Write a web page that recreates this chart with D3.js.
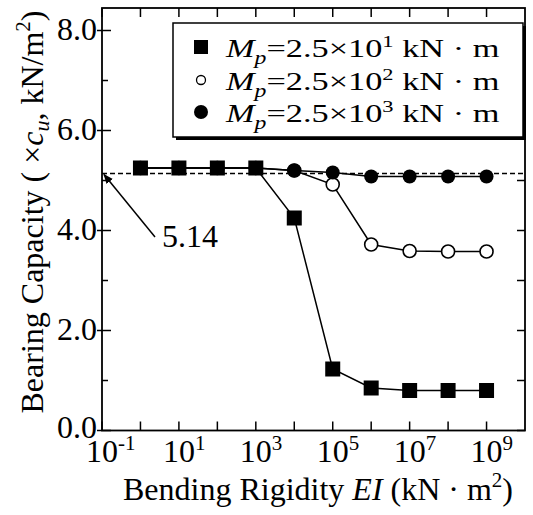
<!DOCTYPE html>
<html>
<head>
<meta charset="utf-8">
<script src="https://cdn.jsdelivr.net/npm/d3@7"></script>
<style>
  html, body { margin: 0; padding: 0; background: #fff; }
  svg { display: block; }
</style>
</head>
<body>
<script>
// ---- data ----
const exponents = [0, 1, 2, 3, 4, 5, 6, 7, 8, 9];           // EI = 10^exp
const seriesSquare = [5.25, 5.25, 5.25, 5.25, 4.25, 1.23, 0.85, 0.80, 0.80, 0.80]; // Mp=2.5e1
const seriesOpen   = [5.25, 5.25, 5.25, 5.25, 5.20, 4.92, 3.72, 3.59, 3.58, 3.58]; // Mp=2.5e2
const seriesFilled = [5.25, 5.25, 5.25, 5.25, 5.20, 5.16, 5.08, 5.08, 5.08, 5.08]; // Mp=2.5e3
const legendExps = ["1", "2", "3"];
const yTickValues = [0, 2, 4, 6, 8];
const yMinorValues = [1, 3, 5, 7];
const xTickExps = [-1, 0, 1, 2, 3, 4, 5, 6, 7, 8, 9];
const xLabelExps = ["-1", "1", "3", "5", "7", "9"];
const refValue = 5.14;

// ---- layout ----
const W = 533, H = 515;
const L = 102, R = 525, T = 8, B = 430.5;
const SERIF = "Liberation Serif";

const svg = d3.select("body").append("svg").attr("width", W).attr("height", H)
  .attr("font-family", SERIF);
const txt = (sel) => sel.append("text").attr("font-family", SERIF).attr("fill", "#000");

const x = d3.scaleLog().domain([1e-1, 1e10]).range([L, R]);
const y = d3.scaleLinear().domain([0, 8.45]).range([B, T]);

// frame
svg.append("rect").attr("x", L).attr("y", T).attr("width", R - L).attr("height", B - T)
  .attr("fill", "none").attr("stroke", "#000").attr("stroke-width", 1.8);

// x ticks (bottom & top, inward)
xTickExps.forEach(e => {
  const xx = x(Math.pow(10, e));
  svg.append("line").attr("x1", xx).attr("x2", xx).attr("y1", B).attr("y2", B - 9)
    .attr("stroke", "#000").attr("stroke-width", 1.5);
  svg.append("line").attr("x1", xx).attr("x2", xx).attr("y1", T).attr("y2", T + 9)
    .attr("stroke", "#000").attr("stroke-width", 1.5);
});
// y ticks
yTickValues.forEach(v => {
  const yy = y(v);
  svg.append("line").attr("x1", L - 5).attr("x2", L + 9).attr("y1", yy).attr("y2", yy)
    .attr("stroke", "#000").attr("stroke-width", 1.5);
  svg.append("line").attr("x1", R).attr("x2", R - 8).attr("y1", yy).attr("y2", yy)
    .attr("stroke", "#000").attr("stroke-width", 1.5);
  txt(svg).attr("x", L - 5).attr("y", yy + (v === 0 ? 7 : 9)).attr("text-anchor", "end")
    .attr("font-size", 32).text(v.toFixed(1));
});
yMinorValues.forEach(v => {
  const yy = y(v);
  svg.append("line").attr("x1", L).attr("x2", L + 6).attr("y1", yy).attr("y2", yy)
    .attr("stroke", "#000").attr("stroke-width", 1.5);
  svg.append("line").attr("x1", R).attr("x2", R - 8).attr("y1", yy).attr("y2", yy)
    .attr("stroke", "#000").attr("stroke-width", 1.5);
});

// x tick labels
xLabelExps.forEach(e => {
  const xx = x(Math.pow(10, +e));
  const t = txt(svg).attr("x", xx - 16).attr("y", 462).attr("font-size", 32);
  t.append("tspan").text("10");
  t.append("tspan").attr("dy", -12).attr("font-size", 21).text(e);
});

// axis titles
const xt = txt(svg).attr("x", 318).attr("y", 500).attr("text-anchor", "middle")
  .attr("font-size", 32);
xt.append("tspan").text("Bending Rigidity  ");
xt.append("tspan").attr("font-style", "italic").text("EI");
xt.append("tspan").text(" (kN · m");
xt.append("tspan").attr("dy", -13).attr("font-size", 21).text("2");
xt.append("tspan").attr("dy", 13).text(")");

const yt = txt(svg).attr("transform", "translate(43,212) rotate(-90)")
  .attr("text-anchor", "middle").attr("font-size", 32);
yt.append("tspan").text("Bearing Capacity ( ×");
yt.append("tspan").attr("font-style", "italic").text("c");
yt.append("tspan").attr("font-style", "italic").attr("dy", 6).attr("font-size", 22).text("u");
yt.append("tspan").attr("dy", -6).text(", kN/m");
yt.append("tspan").attr("dy", -13).attr("font-size", 21).text("2");
yt.append("tspan").attr("dy", 13).text(")");

// reference dashed line
svg.append("line").attr("x1", L).attr("x2", R).attr("y1", y(refValue)).attr("y2", y(refValue))
  .attr("stroke", "#000").attr("stroke-width", 1.5).attr("stroke-dasharray", "5,3");

// annotation arrow
const defs = svg.append("defs");
defs.append("marker").attr("id", "arr").attr("viewBox", "0 0 10 10").attr("refX", 9).attr("refY", 5)
  .attr("markerWidth", 10).attr("markerHeight", 10).attr("orient", "auto")
  .attr("markerUnits", "userSpaceOnUse")
  .append("path").attr("d", "M0,1 L10,5 L0,9 Z").attr("fill", "#000");
svg.append("line").attr("x1", 155).attr("y1", 237).attr("x2", x(1e-1) + 2).attr("y2", y(refValue) + 1)
  .attr("stroke", "#000").attr("stroke-width", 1.5).attr("marker-end", "url(#arr)");
txt(svg).attr("x", 162).attr("y", 247).attr("font-size", 32).text(refValue.toFixed(2));

// series
const line = d3.line().x((d, i) => x(Math.pow(10, exponents[i]))).y(d => y(d));
[seriesOpen, seriesFilled, seriesSquare].forEach(s => {
  svg.append("path").datum(s).attr("d", line).attr("fill", "none")
    .attr("stroke", "#000").attr("stroke-width", 1.5);
});
svg.selectAll(".open").data(seriesOpen).enter().append("circle")
  .attr("cx", (d, i) => x(Math.pow(10, exponents[i]))).attr("cy", d => y(d)).attr("r", 6.5)
  .attr("fill", "#fff").attr("stroke", "#000").attr("stroke-width", 1.6);
svg.selectAll(".filled").data(seriesFilled).enter().append("circle")
  .attr("cx", (d, i) => x(Math.pow(10, exponents[i]))).attr("cy", d => y(d)).attr("r", 7)
  .attr("fill", "#000");
svg.selectAll(".sq").data(seriesSquare).enter().append("rect")
  .attr("x", (d, i) => x(Math.pow(10, exponents[i])) - 7.5).attr("y", d => y(d) - 7.5)
  .attr("width", 15).attr("height", 15).attr("fill", "#000");

// legend
const lg = svg.append("g");
lg.append("rect").attr("x", 176).attr("y", 26).attr("width", 350).attr("height", 114).attr("fill", "#000");
lg.append("rect").attr("x", 173).attr("y", 23).attr("width", 350).attr("height", 114)
  .attr("fill", "#fff").attr("stroke", "#000").attr("stroke-width", 1.5);
const rowsY = [57, 90, 122];
rowsY.forEach((ry, k) => {
  const cy = ry - 10;
  if (k === 0) lg.append("rect").attr("x", 194).attr("y", cy - 7).attr("width", 14).attr("height", 14).attr("fill", "#000");
  if (k === 1) lg.append("circle").attr("cx", 201).attr("cy", cy).attr("r", 4.5).attr("fill", "#fff").attr("stroke", "#000").attr("stroke-width", 1.3);
  if (k === 2) lg.append("circle").attr("cx", 201).attr("cy", cy).attr("r", 7).attr("fill", "#000");
  const t = txt(lg).attr("transform", `translate(226,${ry}) scale(1.32,1)`).attr("font-size", 26);
  t.append("tspan").attr("font-style", "italic").text("M");
  t.append("tspan").attr("font-style", "italic").attr("font-size", 18).attr("dy", 7).text("p");
  t.append("tspan").attr("dy", -7).text("=2.5×10");
  t.append("tspan").attr("dy", -10).attr("font-size", 17).text(legendExps[k]);
  t.append("tspan").attr("dy", 10).text(" kN · m");
});
</script>
</body>
</html>
